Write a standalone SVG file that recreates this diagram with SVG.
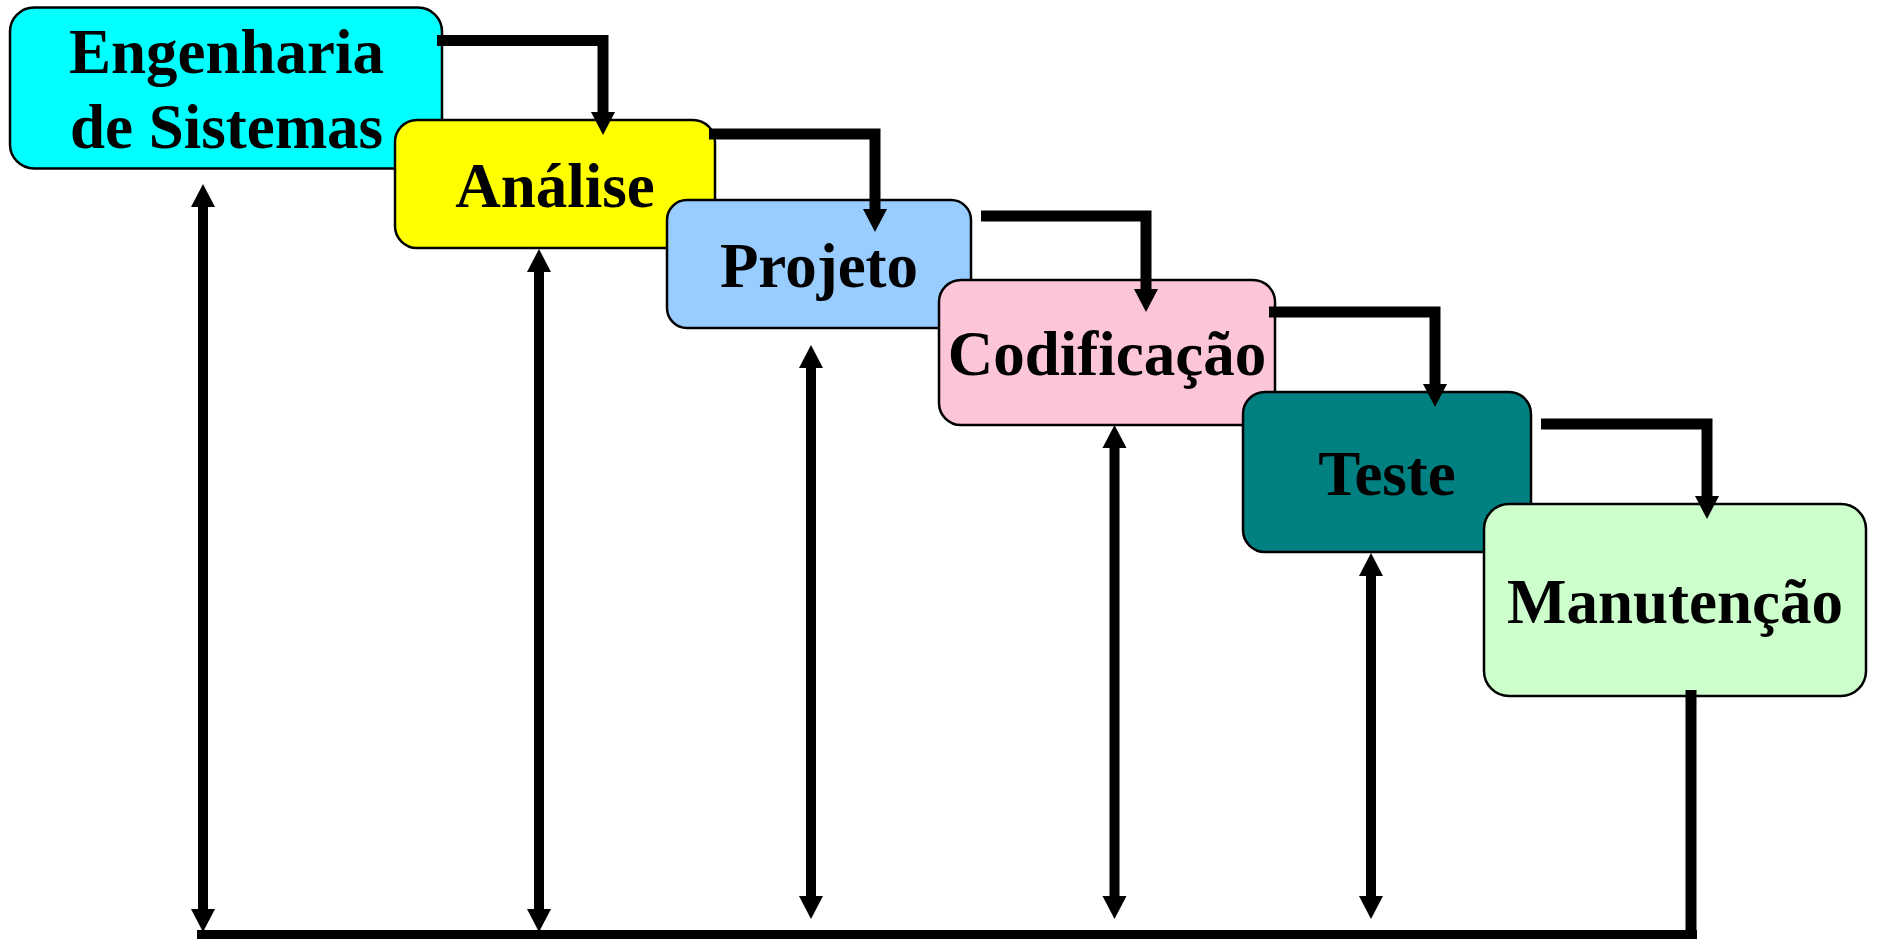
<svg xmlns="http://www.w3.org/2000/svg" width="1879" height="939" viewBox="0 0 1879 939">
  <style>
    .box { stroke: #000; stroke-width: 2.5; }
    .lbl { font-family: "Liberation Serif", "Times New Roman", serif; font-weight: bold; font-size: 63px; fill: #000; text-anchor: middle; }
    .step { fill: none; stroke: #000; stroke-width: 11; stroke-linejoin: miter; marker-end: url(#head); }
    .link { fill: none; stroke: #000; stroke-width: 10; marker-start: url(#head); marker-end: url(#head); }
    .plain { fill: none; stroke: #000; stroke-width: 11; }
  </style>
  <defs>
    <marker id="head" markerUnits="userSpaceOnUse" markerWidth="24" markerHeight="24" refX="0" refY="12" orient="auto-start-reverse" overflow="visible">
      <path d="M0,0 L23,12 L0,24 Z" fill="#000"/>
    </marker>
  </defs>
  <rect width="1879" height="939" fill="#fff"/>

  <!-- process stages, each drawn over the previous one -->
  <g id="engenharia">
    <rect class="box" x="10" y="7.5" width="432" height="161" rx="24" fill="#00FFFF"/>
    <text class="lbl" x="226.5" y="73">Engenharia</text>
    <text class="lbl" x="226.5" y="148">de Sistemas</text>
  </g>
  <g id="analise">
    <rect class="box" x="395" y="120" width="320" height="128" rx="22" fill="#FFFF00"/>
    <text class="lbl" x="555" y="207">Análise</text>
  </g>
  <g id="projeto">
    <rect class="box" x="667" y="200" width="304" height="128" rx="20" fill="#99CCFF"/>
    <text class="lbl" x="819" y="287">Projeto</text>
  </g>
  <g id="codificacao">
    <rect class="box" x="939" y="280" width="336" height="145" rx="22" fill="#FCC5D8"/>
    <text class="lbl" x="1107" y="375">Codificação</text>
  </g>
  <g id="teste">
    <rect class="box" x="1243" y="392" width="288" height="160" rx="22" fill="#008080"/>
    <text class="lbl" x="1387" y="495">Teste</text>
  </g>
  <g id="manutencao">
    <rect class="box" x="1484" y="504" width="382" height="192" rx="25" fill="#CCFFCC"/>
    <text class="lbl" x="1675" y="623">Manutenção</text>
  </g>

  <g id="connectors">
    <!-- forward steps -->
    <path class="step" d="M437,40.5 H603 V112"/>
    <path class="step" d="M709,134 H875 V209"/>
    <path class="step" d="M981,216 H1146 V289"/>
    <path class="step" d="M1269,312 H1435 V384"/>
    <path class="step" d="M1541,424 H1707 V496"/>
    <!-- feedback from maintenance -->
    <path class="plain" d="M1691,690 V934"/>
    <rect x="197" y="930" width="1500" height="9" fill="#000"/>
    <!-- two-way links to each stage -->
    <path class="link" d="M203,207 V909"/>
    <path class="link" d="M539,272 V909"/>
    <path class="link" d="M811,368 V896"/>
    <path class="link" d="M1114.5,448 V896"/>
    <path class="link" d="M1371,576 V896"/>
  </g>
</svg>
